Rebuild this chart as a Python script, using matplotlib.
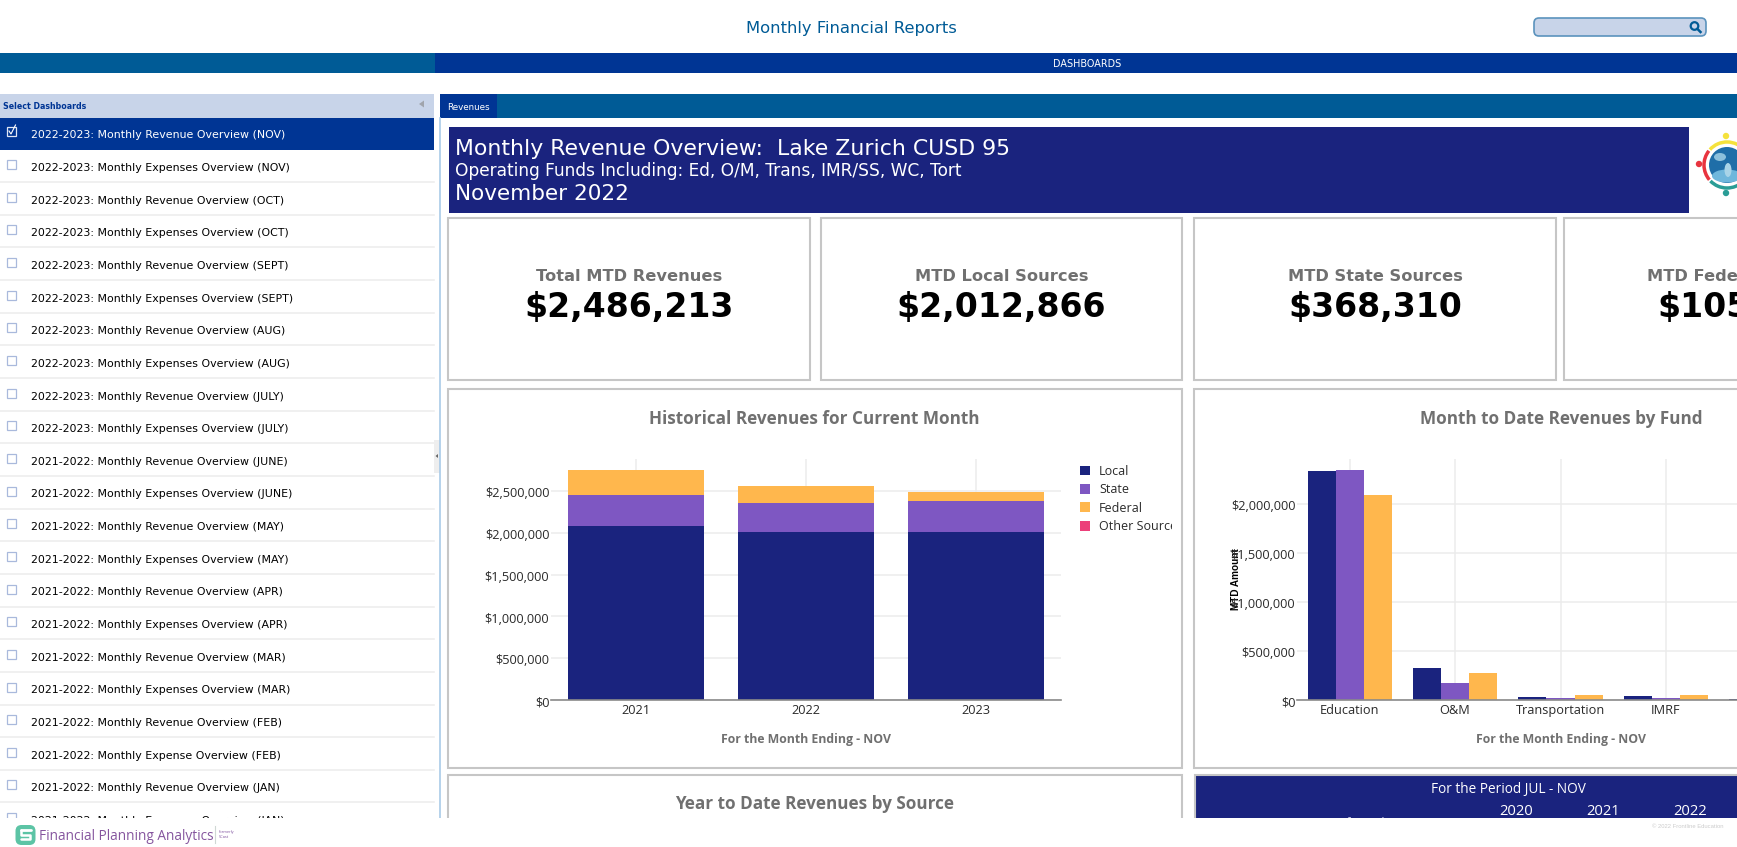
import matplotlib
matplotlib.use("Agg")
import matplotlib.pyplot as plt
from matplotlib.patches import Rectangle, Circle, Arc, Ellipse, FancyBboxPatch, Polygon
from matplotlib.ticker import FuncFormatter
from matplotlib.transforms import IdentityTransform, ScaledTranslation

W, H = 1737, 847

# data
menu_items = [
    "2022-2023: Monthly Revenue Overview (NOV)", "2022-2023: Monthly Expenses Overview (NOV)",
    "2022-2023: Monthly Revenue Overview (OCT)", "2022-2023: Monthly Expenses Overview (OCT)",
    "2022-2023: Monthly Revenue Overview (SEPT)", "2022-2023: Monthly Expenses Overview (SEPT)",
    "2022-2023: Monthly Revenue Overview (AUG)", "2022-2023: Monthly Expenses Overview (AUG)",
    "2022-2023: Monthly Revenue Overview (JULY)", "2022-2023: Monthly Expenses Overview (JULY)",
    "2021-2022: Monthly Revenue Overview (JUNE)", "2021-2022: Monthly Expenses Overview (JUNE)",
    "2021-2022: Monthly Revenue Overview (MAY)", "2021-2022: Monthly Expenses Overview (MAY)",
    "2021-2022: Monthly Revenue Overview (APR)", "2021-2022: Monthly Expenses Overview (APR)",
    "2021-2022: Monthly Revenue Overview (MAR)", "2021-2022: Monthly Expenses Overview (MAR)",
    "2021-2022: Monthly Revenue Overview (FEB)", "2021-2022: Monthly Expense Overview (FEB)",
    "2021-2022: Monthly Revenue Overview (JAN)", "2021-2022: Monthly Expenses Overview (JAN)",
]
kpi_labels = ["Total MTD Revenues", "MTD Local Sources", "MTD State Sources", "MTD Federal Sources"]
kpi_values = ["$2,486,213", "$2,012,866", "$368,310", "$105,037"]

hist_years = ["2021", "2022", "2023"]
hist_local = [2081000, 2005000, 2012866]
hist_state = [367000, 351000, 368310]
hist_federal = [304000, 204000, 105037]
hist_other = [0, 0, 0]

funds = ["Education", "O&M", "Transportation", "IMRF", "Tort"]
fund_2021 = [2332000, 329000, 34000, 44000, 13000]
fund_2022 = [2338000, 173000, 20000, 24000, 5000]
fund_2023 = [2087000, 275000, 48000, 54000, 22000]

NAVY = "#1a237e"
PURPLE = "#7e57c2"
ORANGE = "#ffb74d"
PINK = "#ec407a"
TEAL_BLUE = "#005b96"
ROYAL = "#003594"
PALE = "#c8d4e9"
BORDER = "#c6c6c6"
GRAY = "#707070"
GRID = "#ececec"
SANS = "DejaVu Sans"
OPEN = "Open Sans"

fig = plt.figure(figsize=(W / 100, H / 100), dpi=100, facecolor="white")


def px_axes(left, top, right, bottom, **kw):
    return fig.add_axes([left / W, 1 - bottom / H, (right - left) / W, (bottom - top) / H], **kw)


# page furniture in pixel coordinates
bg = fig.add_axes([0, 0, 1, 1], zorder=0)
bg.set_xlim(0, W)
bg.set_ylim(H, 0)
bg.axis("off")


def box(x0, y0, x1, y1, color, edge="none", lw=0, z=1):
    bg.add_patch(Rectangle((x0, y0), x1 - x0, y1 - y0, facecolor=color, edgecolor=edge, linewidth=lw, zorder=z))


def label(x, y, s, size, color="black", family=SANS, weight="normal", ha="center", z=3):
    return bg.text(x, y + 1.8, s, fontsize=size, color=color, family=family, weight=weight,
                   ha=ha, va="center", zorder=z)


label(851, 27, "Monthly Financial Reports", 11.8, TEAL_BLUE)
bg.add_patch(FancyBboxPatch((1534, 18), 172, 18, boxstyle="round,pad=0,rounding_size=5",
                            facecolor=PALE, edgecolor="#5b93bd", linewidth=1.2))
bg.add_patch(Circle((1694.5, 26), 3.8, facecolor="none", edgecolor=TEAL_BLUE, linewidth=1.6))
bg.plot([1697.5, 1700.5], [29, 32], color=TEAL_BLUE, linewidth=1.8)

box(0, 53.5, 435, 73.5, TEAL_BLUE)
box(435, 53.5, W, 73.5, ROYAL)
label(1087, 62.5, "DASHBOARDS", 6.9, "white")

# left menu
box(0, 94, 434, 118.5, PALE)
label(3, 104.5, "Select Dashboards", 5.7, ROYAL, weight="bold", ha="left")
bg.add_patch(Polygon([[419, 104], [424, 100.5], [424, 107.5]], facecolor="#a0a4ac", edgecolor="none"))
box(0, 118.5, 434, 150, ROYAL)
for i, item in enumerate(menu_items):
    y = 133.5 + i * 32.65
    label(31, y, item, 7.9, "white" if i == 0 else "black", ha="left")
    box(6.5, y - 6, 15.5, y + 3, "none", edge="#a9b9dc" if i else "#dfe6f5", lw=0.9, z=3)
    if i == 0:
        bg.plot([9, 11, 15.5], [y - 2.5, y + 0.5, y - 8.5], color="white", linewidth=0.8, zorder=4)
    if i:
        bg.plot([0, 434], [y + 16, y + 16], color="#eeeeee", linewidth=1.2, zorder=2)
box(434, 440, 440, 473, "#eeeeee")
bg.add_patch(Polygon([[435.5, 456], [438, 454], [438, 458]], facecolor="#666666", edgecolor="none", zorder=2))

# right content
bg.plot([440, 440], [118, 820], color="#a9cbe8", linewidth=1.2, zorder=2)
box(440, 94, W, 118.5, TEAL_BLUE)
box(440, 94, 497, 118.5, ROYAL)
label(468, 105.5, "Revenues", 6.3, "white")

box(448.5, 126.7, 1689, 213, NAVY)
label(455, 147.5, "Monthly Revenue Overview:  Lake Zurich CUSD 95", 15.84, "white", ha="left")
label(455, 169, "Operating Funds Including: Ed, O/M, Trans, IMR/SS, WC, Tort", 12.22, "white", ha="left")
label(455, 192, "November 2022", 15.5, "white", ha="left")

# globe logo
bg.add_patch(Circle((1727, 165), 18, facecolor="#1f6ea8", edgecolor="none", zorder=2))
bg.add_patch(Ellipse((1727, 176), 30, 13, facecolor="#6fb7dc", edgecolor="none", zorder=2))
bg.add_patch(Ellipse((1720, 157), 12, 8, facecolor="#8cc0dc", edgecolor="none", zorder=2))
bg.add_patch(Ellipse((1728, 170), 7, 14, facecolor="#a8d4e8", edgecolor="none", zorder=2))
bg.add_patch(Arc((1727, 165), 46, 46, theta1=222, theta2=320, color="#f5e23c", linewidth=2.5, zorder=2))
bg.add_patch(Arc((1727, 165), 46, 46, theta1=140, theta2=218, color="#e8343f", linewidth=2.5, zorder=2))
bg.add_patch(Arc((1727, 165), 46, 46, theta1=45, theta2=136, color="#2a9d96", linewidth=2.5, zorder=2))
bg.add_patch(Circle((1699, 164), 3.2, facecolor="#e8343f", edgecolor="none", zorder=2))
bg.add_patch(Circle((1726, 136), 3.2, facecolor="#f5e23c", edgecolor="none", zorder=2))
bg.add_patch(Circle((1726, 193), 3.2, facecolor="#2a9d96", edgecolor="none", zorder=2))

# KPI cards
card_edges = [(448, 810), (821, 1182), (1194, 1556), (1564, 1925)]
for (x0, x1), name, value in zip(card_edges, kpi_labels, kpi_values):
    box(x0, 218, x1, 380, "white", edge=BORDER, lw=1.5)
    xc = (x0 + x1) / 2
    label(xc, 274.5, name, 11.7, GRAY, weight="bold")
    label(xc, 305.5, value, 23.9, "black", weight="bold")

# chart cards
box(448, 389.5, 1182, 768, "white", edge=BORDER, lw=1.5)
box(1194, 389.5, 1925, 768, "white", edge=BORDER, lw=1.5)
box(448, 775, 1182, 840, "white", edge=BORDER, lw=1.5)
box(1194.5, 775, 1925, 840, NAVY, edge=BORDER, lw=1.5)
label(814.5, 417.5, "Historical Revenues for Current Month", 12.3, GRAY, OPEN, "bold")
label(1561, 417.5, "Month to Date Revenues by Fund", 12.3, GRAY, OPEN, "bold")
label(814.5, 802, "Year to Date Revenues by Source", 12.3, GRAY, OPEN, "bold")
label(806, 737.5, "For the Month Ending - NOV", 8.8, GRAY, OPEN, "bold")
label(1561, 737.5, "For the Month Ending - NOV", 8.8, GRAY, OPEN, "bold")
label(1508, 787.5, "For the Period JUL - NOV", 9.8, "white", OPEN)
for x, yr in zip([1516.5, 1603, 1690.5], ["2020", "2021", "2022"]):
    label(x, 810, yr, 10.6, "white", OPEN)
label(1293, 822, "Source of Funds", 9.4, "#c8cce8", OPEN, ha="left")


def style_axes(ax):
    ax.patch.set_alpha(0)
    ax.set_axisbelow(True)
    ax.grid(True, color=GRID, linewidth=1.1)
    for side in ["top", "left", "right"]:
        ax.spines[side].set_visible(False)
    ax.spines["bottom"].set_color("#8a8a8a")
    ax.spines["bottom"].set_linewidth(1.2)
    ax.tick_params(length=0, labelsize=9.2, colors="#2a2a2a")
    ax.tick_params(axis="x", pad=2.8)
    ax.tick_params(axis="y", pad=1.2)
    ax.yaxis.set_major_formatter(FuncFormatter(lambda v, _: f"${v:,.0f}"))
    ax.set_yticks([0, 500000, 1000000, 1500000, 2000000, 2500000])
    for t in ax.get_xticklabels() + ax.get_yticklabels():
        t.set_family(OPEN)


# historical stacked bars
ax1 = px_axes(551, 458.8, 1061, 699.8, zorder=2)
positions = list(range(len(hist_years)))
base_state = [a for a in hist_local]
base_fed = [a + b for a, b in zip(hist_local, hist_state)]
base_other = [a + b + c for a, b, c in zip(hist_local, hist_state, hist_federal)]
ax1.bar(positions, hist_local, 0.8, color=NAVY, label="Local")
ax1.bar(positions, hist_state, 0.8, bottom=base_state, color=PURPLE, label="State")
ax1.bar(positions, hist_federal, 0.8, bottom=base_fed, color=ORANGE, label="Federal")
ax1.bar(positions, hist_other, 0.8, bottom=base_other, color=PINK, label="Other Sources")
ax1.set_xticks(positions, hist_years)
style_axes(ax1)
ax1.set_xlim(-0.5, 2.5)
ax1.set_ylim(0, 2887000)
leg = ax1.legend(loc="upper left", bbox_to_anchor=(1.037, 0.975), frameon=False,
                 prop={"family": OPEN, "size": 9.0}, handlelength=0.83, handleheight=0.83,
                 handletextpad=0.72, labelspacing=0.43, borderpad=0, borderaxespad=0)
clip = Rectangle((0, 0), 1172, H, transform=IdentityTransform())
for t in leg.get_texts():
    t.set_color("#2a2a2a")
    t.set_clip_path(clip)
    t.set_clip_on(True)

# month to date grouped bars
ax2 = px_axes(1297, 458.8, 1824, 700.1, zorder=2)
positions = list(range(len(funds)))
bw = 0.8 / 3
ax2.bar([p - bw for p in positions], fund_2021, bw, color=NAVY)
ax2.bar(positions, fund_2022, bw, color=PURPLE)
ax2.bar([p + bw for p in positions], fund_2023, bw, color=ORANGE)
ax2.set_xticks(positions, funds)
style_axes(ax2)
ax2.set_xlim(-0.5, 4.5)
ax2.set_ylim(0, 2457000)
label(1236, 577.5, "MTD Amount", 7.2, "black", "Liberation Sans", "bold", z=6).set_rotation(90)

# shift the y tick labels down a little, as in the browser rendering
for ax in (ax1, ax2):
    for t in ax.get_yticklabels():
        t.set_transform(t.get_transform() + ScaledTranslation(0, -1 / 72, fig.dpi_scale_trans))

# footer sits on top and cuts off the scrolling content
foot = fig.add_axes([0, 0, 1, 1], zorder=5)
foot.set_xlim(0, W)
foot.set_ylim(H, 0)
foot.axis("off")
foot.add_patch(Rectangle((0, 818), W, 30, facecolor="white", edgecolor="none"))
foot.add_patch(FancyBboxPatch((15.5, 825), 20, 20, boxstyle="round,pad=0,rounding_size=6",
                              facecolor="#5cc4a5", edgecolor="none"))
foot.plot([21, 31], [830, 830], color="white", linewidth=2, solid_capstyle="round")
foot.plot([21, 21, 30, 30, 21], [830, 835, 835, 839.5, 839.5], color="white", linewidth=1.8,
          solid_capstyle="round")
foot.text(39, 836, "Financial Planning Analytics", fontsize=9.8, color="#85559e", family=OPEN,
          ha="left", va="center")
foot.plot([215, 215], [826, 843], color="#cfd8d4", linewidth=0.8)
foot.text(219, 832, "formerly", fontsize=2.8, color="#7d4f9e", family=OPEN, ha="left", va="center")
foot.text(219, 837.5, "5Cast", fontsize=2.8, color="#7d4f9e", family=OPEN, ha="left", va="center")
foot.text(1651.5, 826, "© 2022 Frontline Education", fontsize=4.2, color="#cccccc",
          family="Liberation Sans", ha="left", va="center")

fig.savefig("out.png", dpi=100)
